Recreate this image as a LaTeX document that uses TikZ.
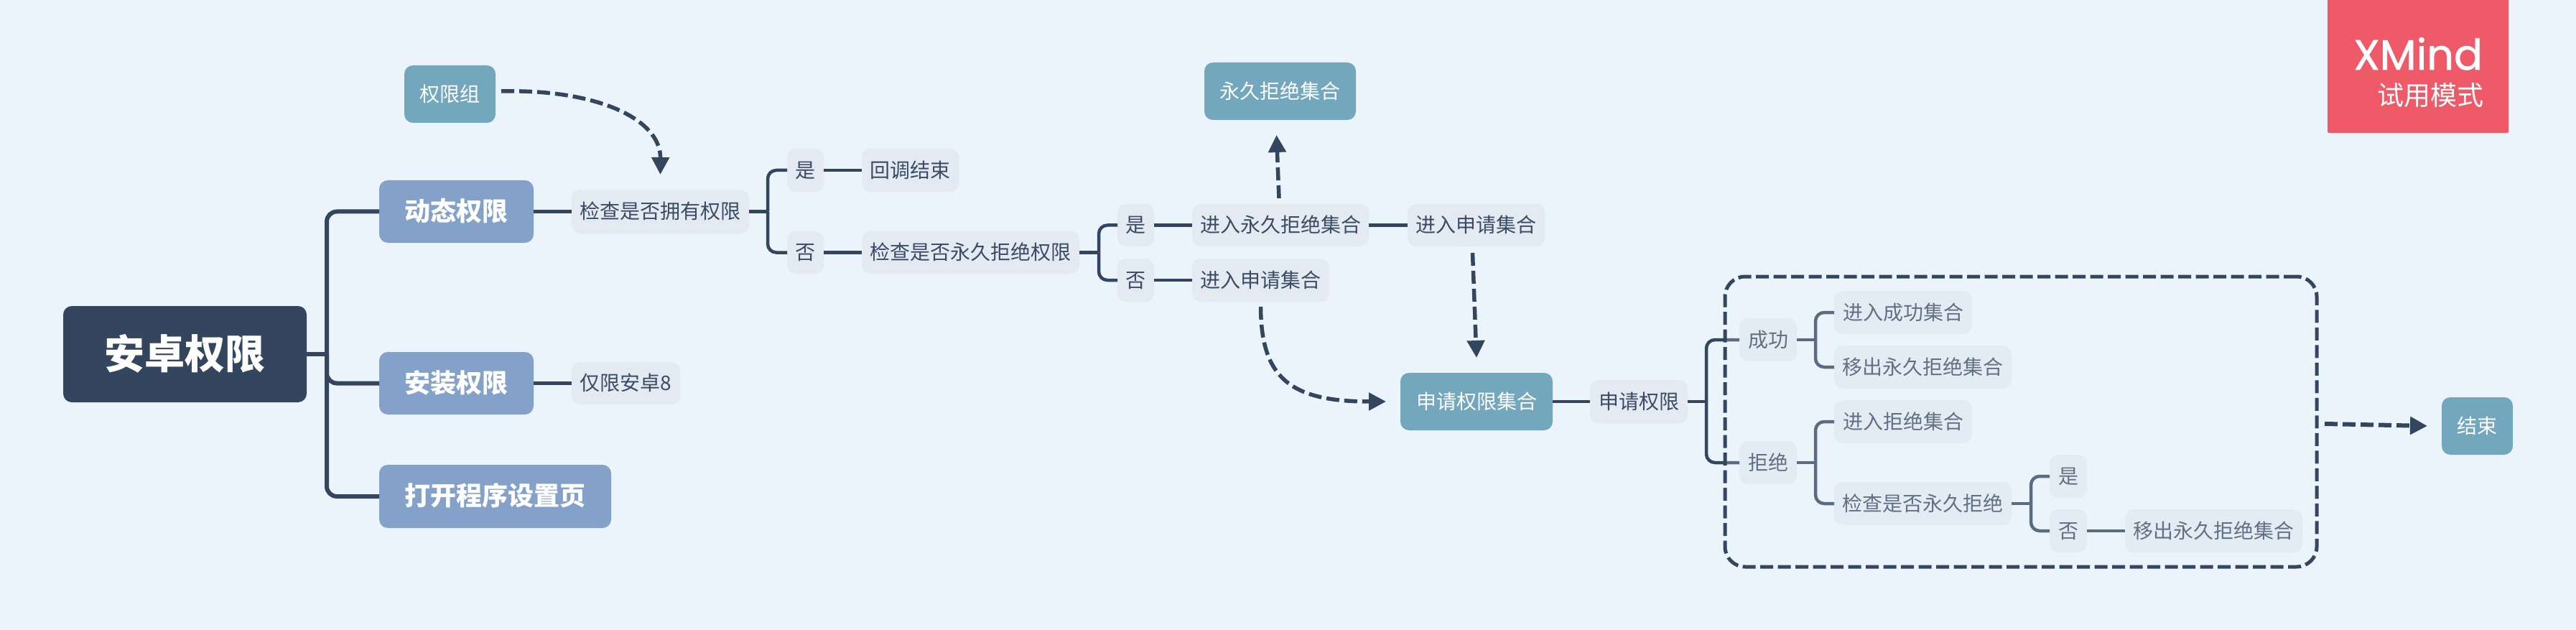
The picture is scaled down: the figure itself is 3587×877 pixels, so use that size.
\documentclass[tikz,border=0pt]{standalone}
\usepackage{fontspec}
\setmainfont{Noto Sans CJK SC}
\newfontfamily\logofont{Poppins}[FakeBold=1.2]
\usetikzlibrary{arrows.meta}
\definecolor{bgc}{HTML}{ECF4FB}
\definecolor{navy}{HTML}{34465E}
\definecolor{mainc}{HTML}{84A1C9}
\definecolor{tealc}{HTML}{72A7BD}
\definecolor{subc}{HTML}{E3EAF2}
\definecolor{subt}{HTML}{3A4B63}
\definecolor{logoc}{HTML}{EF5A68}
\tikzset{
  box/.style={inner sep=0pt,outer sep=0pt,align=center,anchor=center},
  rootbox/.style={box,fill=navy,rounded corners=12pt,text=white,font=\fontsize{56}{60}\selectfont\bfseries,text height=47pt,text depth=7pt},
  mainbox/.style={box,fill=mainc,rounded corners=12pt,text=white,font=\fontsize{36}{40}\selectfont\bfseries,text height=30pt,text depth=4.5pt},
  tealbox/.style={box,fill=tealc,rounded corners=12pt,text=white,font=\fontsize{28}{32}\selectfont,text height=24pt,text depth=3.5pt},
  subbox/.style={box,fill=subc,rounded corners=12pt,text=subt,font=\fontsize{28}{32}\selectfont,text height=24pt,text depth=3.5pt},
  trunk/.style={draw=navy,line width=6pt,rounded corners=14pt},
  link/.style={draw=navy,line width=4.5pt,rounded corners=12pt},
  dashlink/.style={draw=navy,line width=5.5pt,dash pattern=on 18pt off 7pt,-{Triangle[width=24pt,length=24pt]}},
  boundary/.style={box,draw=navy,line width=5pt,dash pattern=on 18pt off 6.5pt,rounded corners=28pt,fill=bgc,fill opacity=.22,draw opacity=1}
}
\newcommand{\bx}[7]{\node[#6,minimum width=#4pt-#2pt,minimum height=#5pt-#3pt] (#1) at ({(#2+#4)/2},{(#3+#5)/2}) {#7};}
\begin{document}
\begin{tikzpicture}[x=1pt,y=-1pt]
\useasboundingbox (0,0) rectangle (3587,877);
\fill[bgc] (0,0) rectangle (3587,877);
% nodes
\bx{root}{88}{426}{427}{560}{rootbox}{安卓权限}
\bx{dt}{528}{251}{743}{338}{mainbox}{动态权限}
\bx{az}{528}{490}{743}{577}{mainbox}{安装权限}
\bx{dk}{528}{647}{851}{735}{mainbox}{打开程序设置页}
\bx{qxz}{563}{91}{690}{171}{tealbox}{权限组}
\bx{jc}{796}{264}{1043}{325}{subbox}{检查是否拥有权限}
\bx{jn}{796}{504}{947}{563}{subbox}{仅限安卓8}
\bx{y1}{1096}{207}{1147}{267}{subbox}{是}
\bx{hd}{1200}{207}{1335}{267}{subbox}{回调结束}
\bx{n1}{1096}{322}{1147}{381}{subbox}{否}
\bx{jy}{1200}{322}{1503}{381}{subbox}{检查是否永久拒绝权限}
\bx{y2}{1556}{284}{1607}{343}{subbox}{是}
\bx{jryj}{1660}{284}{1906}{343}{subbox}{进入永久拒绝集合}
\bx{jrsq}{1960}{284}{2151}{343}{subbox}{进入申请集合}
\bx{n2}{1556}{360}{1607}{420}{subbox}{否}
\bx{jrsqb}{1660}{360}{1851}{420}{subbox}{进入申请集合}
\bx{yj}{1677}{87}{1888}{167}{tealbox}{永久拒绝集合}
\bx{sqjh}{1950}{519}{2162}{599}{tealbox}{申请权限集合}
\bx{sq}{2214}{529}{2350}{589}{subbox}{申请权限}
\bx{cg}{2422}{443}{2502}{503}{subbox}{成功}
\bx{jj}{2422}{614}{2502}{674}{subbox}{拒绝}
\bx{jrcg}{2554}{405}{2746}{465}{subbox}{进入成功集合}
\bx{yc}{2554}{481}{2801}{541}{subbox}{移出永久拒绝集合}
\bx{jrjj}{2554}{557}{2746}{617}{subbox}{进入拒绝集合}
\bx{jcy}{2554}{671}{2801}{731}{subbox}{检查是否永久拒绝}
\bx{y3}{2854}{633}{2906}{693}{subbox}{是}
\bx{n3}{2854}{709}{2906}{769}{subbox}{否}
\bx{yc2}{2959}{709}{3206}{769}{subbox}{移出永久拒绝集合}
\bx{js}{3400}{553}{3499}{633}{tealbox}{结束}
% junctions
\coordinate (j0) at (455,493);
\coordinate (j1) at (1069,294.5);
\coordinate (j2) at (1530,351.5);
\coordinate (j3) at (2376,559);
\coordinate (j4) at (2528,473);
\coordinate (j5) at (2528,644);
\coordinate (j6) at (2828,701);
% tree connectors
\draw[trunk] (root.east) -- (j0);
\draw[trunk] (j0) |- (dt.west);
\draw[trunk] (j0) |- (az.west);
\draw[trunk] (j0) |- (dk.west);
\draw[link] (dt.east) -- (jc.west);
\draw[link] (az.east) -- (jn.west);
\draw[link] (jc.east) -- (j1);
\draw[link] (j1) |- (y1.west);
\draw[link] (j1) |- (n1.west);
\draw[link] (y1.east) -- (hd.west);
\draw[link] (n1.east) -- (jy.west);
\draw[link] (jy.east) -- (j2);
\draw[link] (j2) |- (y2.west);
\draw[link] (j2) |- (n2.west);
\draw[link] (y2.east) -- (jryj.west);
\draw[link] (n2.east) -- (jrsqb.west);
\draw[link] (jryj.east) -- (jrsq.west);
\draw[link] (sqjh.east) -- (sq.west);
\draw[link] (sq.east) -- (j3);
\draw[link] (j3) |- (cg.west);
\draw[link] (j3) |- (jj.west);
\draw[link] (cg.east) -- (j4);
\draw[link] (j4) |- (jrcg.west);
\draw[link] (j4) |- (yc.west);
\draw[link] (jj.east) -- (j5);
\draw[link] (j5) |- (jrjj.west);
\draw[link] (j5) |- (jcy.west);
\draw[link] (jcy.east) -- (j6);
\draw[link] (j6) |- (y3.west);
\draw[link] (j6) |- (n3.west);
\draw[link] (n3.east) -- (yc2.west);
% summary boundary
\bx{bd}{2402}{385}{3226}{789}{boundary}{}
% relationship arrows
\draw[dashlink] ([xshift=8pt,yshift=4pt]qxz.east) .. controls (830,124) and (920,165) .. ([yshift=21pt]jc.north);
\draw[dashlink] ([xshift=-2pt,yshift=8pt]jryj.north) -- ([xshift=-5pt,yshift=-21pt]yj.south);
\draw[dashlink] ([yshift=-7pt]jrsqb.south) .. controls (1756,525) and (1795,559) .. ([xshift=-20pt]sqjh.west);
\draw[dashlink] ([xshift=-5pt,yshift=-9pt]jrsq.south) -- ([yshift=21pt]sqjh.north);
\draw[dashlink,line width=6pt] ([xshift=11pt,yshift=-3pt]bd.east) -- ([xshift=-20pt]js.west);
% logo
\fill[logoc,rounded corners=2pt] (3241,-5) rectangle (3493,185);
\node[anchor=base east,inner sep=0pt,text=white,font=\logofont\fontsize{59}{60}\selectfont] (xm) at (3457,97) {XMind};
\node[anchor=base east,inner sep=0pt,text=white,font=\fontsize{37}{40}\selectfont] (sy) at (3459,147) {试用模式};
\end{tikzpicture}
\end{document}
